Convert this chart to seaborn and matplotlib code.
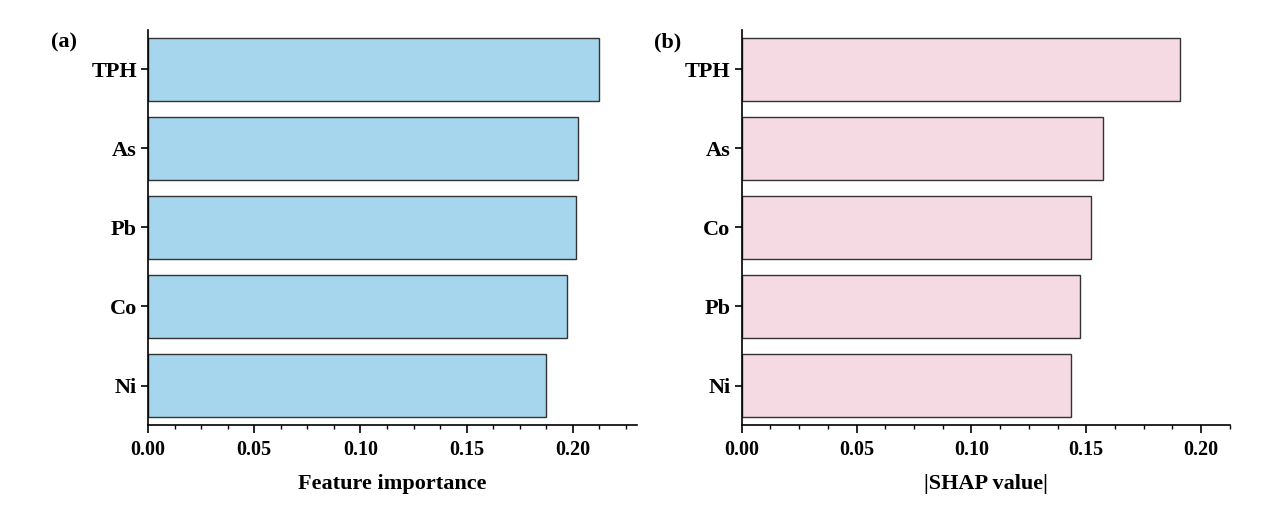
import pandas as pd
import seaborn as sns
import matplotlib.pyplot as plt
from matplotlib.ticker import MultipleLocator

# Data
fi_features = ['TPH', 'As', 'Pb', 'Co', 'Ni']
fi_values = [0.2125, 0.2025, 0.2013, 0.1972, 0.1872]

shap_features = ['TPH', 'As', 'Co', 'Pb', 'Ni']
shap_values = [0.1909, 0.1571, 0.1520, 0.1471, 0.1435]

sns.set_style('ticks')
plt.rcParams['font.family'] = ['Liberation Serif', 'DejaVu Serif']
plt.rcParams['font.weight'] = 'bold'
plt.rcParams['axes.labelweight'] = 'bold'
plt.rcParams['text.color'] = 'black'
plt.rcParams['axes.labelcolor'] = 'black'
plt.rcParams['axes.edgecolor'] = 'black'

fig = plt.figure(figsize=(12.81, 5.14), dpi=100)
ax1 = fig.add_axes([0.1155, 0.173, 0.3815, 0.769])
ax2 = fig.add_axes([0.579, 0.173, 0.381, 0.769])

df_fi = pd.DataFrame({'feature': fi_features, 'value': fi_values})
df_shap = pd.DataFrame({'feature': shap_features, 'value': shap_values})

sns.barplot(data=df_fi, x='value', y='feature', orient='h', color='#A6D5EE',
            edgecolor='#333333', linewidth=1.0, saturation=1, ax=ax1)
sns.barplot(data=df_shap, x='value', y='feature', orient='h', color='#F5D9E3',
            edgecolor='#333333', linewidth=1.0, saturation=1, ax=ax2)

for ax, xmax, label in [(ax1, 0.23, 'Feature importance'),
                        (ax2, 0.2125, '|SHAP value|')]:
    ax.set_xlim(0, xmax)
    ax.set_ylim(4.5, -0.5)
    ax.xaxis.set_major_locator(MultipleLocator(0.05))
    ax.xaxis.set_minor_locator(MultipleLocator(0.0125))
    ax.xaxis.set_major_formatter(plt.FormatStrFormatter('%.2f'))
    ax.tick_params(axis='x', which='major', direction='out', length=6,
                   width=1.2, labelsize=14.5, pad=5, colors='black')
    ax.tick_params(axis='y', which='major', direction='out', length=5,
                   width=1.2, labelsize=16, pad=3, colors='black')
    ax.tick_params(axis='x', which='minor', direction='out', length=3,
                   width=1.0, colors='black')
    for side in ['top', 'right']:
        ax.spines[side].set_visible(False)
    for side in ['left', 'bottom']:
        ax.spines[side].set_linewidth(1.2)
        ax.spines[side].set_color('black')
    ax.set_xlabel(label, fontsize=16, fontweight='bold', labelpad=10, color='black')
    ax.set_ylabel('')
    for t in ax.get_xticklabels() + ax.get_yticklabels():
        t.set_fontweight('bold')

# Panel tags
fig.text(0.050, 0.918, '(a)', fontsize=16, fontweight='bold', ha='center', va='center')
fig.text(0.5215, 0.918, '(b)', fontsize=16, fontweight='bold', ha='center', va='center')

fig.savefig('out.png', dpi=100, facecolor='white')
